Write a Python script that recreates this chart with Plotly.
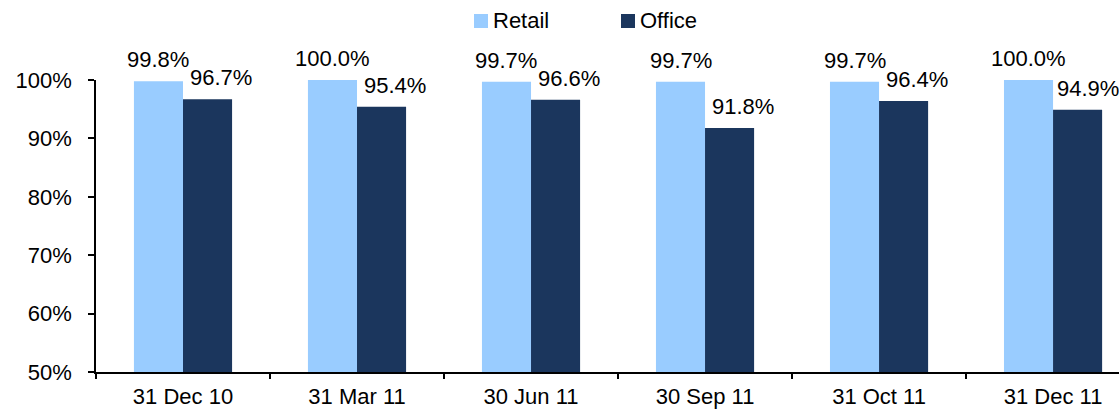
import plotly.graph_objects as go

# Occupancy by reporting date
periods = ["31 Dec 10", "31 Mar 11", "30 Jun 11", "30 Sep 11", "31 Oct 11", "31 Dec 11"]
retail = [99.8, 100.0, 99.7, 99.7, 99.7, 100.0]
office = [96.7, 95.4, 96.6, 91.8, 96.4, 94.9]
y_ticks = [50, 60, 70, 80, 90, 100]
series_names = ["Retail", "Office"]

RETAIL_COLOR = "#99CCFF"
OFFICE_COLOR = "#1B365D"
FONT = "Liberation Sans, Arial, sans-serif"
FS = 22

BAR_W = 0.282  # width of one bar in category units
BARGAP = 1 - 2 * BAR_W

# plot-area geometry in pixels, used to place the hand-drawn legend
W, H = 1119, 409
ML, MR, MT, MB = 96, 0, 80, 37
PW, PH = W - ML - MR, H - MT - MB


def px_x(p):
    return (p - ML) / PW


def px_y(p):
    return (H - MB - p) / PH


fig = go.Figure()
fig.add_trace(go.Bar(name=series_names[0], x=periods, y=retail, marker_color=RETAIL_COLOR,
                     marker_line_width=0, showlegend=False))
fig.add_trace(go.Bar(name=series_names[1], x=periods, y=office, marker_color=OFFICE_COLOR,
                     marker_line_width=0, showlegend=False))

# value labels above each bar; the office label sits right of its bar
annotations = []
n = len(periods)
for i, (r, o) in enumerate(zip(retail, office)):
    annotations.append(dict(x=i - BAR_W / 2, y=r, text=f"{r:.1f}%", xref="x", yref="y",
                            showarrow=False, yanchor="bottom", xanchor="center", yshift=7,
                            font=dict(family=FONT, size=FS, color="#000")))
    annotations.append(dict(x=i + BAR_W / 2, y=o, text=f"{o:.1f}%", xref="x", yref="y",
                            showarrow=False, yanchor="bottom", xanchor="center", yshift=7,
                            xshift=13 if i < n - 1 else 10,
                            font=dict(family=FONT, size=FS, color="#000")))

# legend: colour swatch followed by series name
shapes = []
for name, color, left in zip(series_names, [RETAIL_COLOR, OFFICE_COLOR], [474, 621]):
    shapes.append(dict(type="rect", xref="paper", yref="paper",
                       x0=px_x(left), x1=px_x(left + 14), y0=px_y(28), y1=px_y(14),
                       fillcolor=color, line_width=0))
    annotations.append(dict(x=px_x(left + 17), y=px_y(21), xref="paper", yref="paper",
                            text=name, showarrow=False, xanchor="left", yanchor="middle",
                            font=dict(family=FONT, size=FS, color="#000")))

fig.update_layout(
    width=W, height=H,
    margin=dict(l=ML, r=MR, t=MT, b=MB, autoexpand=False),
    paper_bgcolor="white", plot_bgcolor="white",
    barmode="group", bargap=BARGAP, bargroupgap=0,
    font=dict(family=FONT, size=FS, color="#000"),
    showlegend=False,
    annotations=annotations,
    shapes=shapes,
)
fig.update_xaxes(type="category", range=[-0.5, 5.379], showline=True, linecolor="#000",
                 linewidth=2, ticks="outside", tickson="boundaries", ticklen=5,
                 tickcolor="#000", tickwidth=1.5, showgrid=False, zeroline=False,
                 automargin=False, ticklabelstandoff=4, tickfont=dict(family=FONT, size=FS))
fig.update_yaxes(range=[50, 100], tickvals=y_ticks, ticktext=[f"{v}%" for v in y_ticks],
                 showline=True, linecolor="#000", linewidth=1.5, ticks="outside",
                 ticklen=6, tickcolor="#000", tickwidth=1.5, showgrid=False,
                 zeroline=False, automargin=False, ticklabelstandoff=12,
                 tickfont=dict(family=FONT, size=FS))

fig.write_html("out.html")
